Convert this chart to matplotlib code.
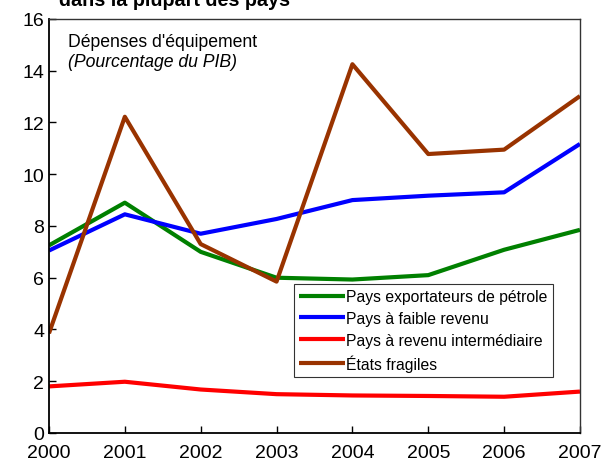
import matplotlib
matplotlib.use("Agg")
import matplotlib.pyplot as plt

plt.rcParams['font.family'] = ['Liberation Sans', 'DejaVu Sans']

years = [2000, 2001, 2002, 2003, 2004, 2005, 2006, 2007]
petrole = [7.25, 8.9, 7.0, 6.0, 5.93, 6.1, 7.08, 7.85]
faible = [7.05, 8.45, 7.7, 8.27, 9.0, 9.17, 9.3, 11.17]
intermediaire = [1.8, 1.98, 1.68, 1.5, 1.45, 1.43, 1.4, 1.6]
fragiles = [3.85, 12.22, 7.3, 5.85, 14.25, 10.78, 10.95, 13.02]

series = [
    ("Pays exportateurs de pétrole", petrole, '#008000'),
    ("Pays à faible revenu", faible, '#0000ff'),
    ("Pays à revenu intermédiaire", intermediaire, '#ff0000'),
    ("États fragiles", fragiles, '#993300'),
]

fig = plt.figure(figsize=(6.01, 4.64), dpi=100)
ax = fig.add_axes([0.0815, 0.0647, 0.8835, 0.8923])

for label, vals, color in series:
    ax.plot(years, vals, color=color, lw=3, label=label, solid_capstyle='butt')

ax.set_xlim(2000, 2007)
ax.set_ylim(0, 16)
ax.set_yticks(range(0, 17, 2))
ax.set_xticks(years)
ax.tick_params(direction='in', length=5, labelsize=14, width=1)
ax.tick_params(axis='x', pad=8)
for s in ['left', 'bottom']:
    ax.spines[s].set_linewidth(1.3)
for s in ['top', 'right']:
    ax.spines[s].set_linewidth(1.0)
    ax.spines[s].set_color('#333333')

ax.text(0.036, 0.967, "Dépenses d'équipement", transform=ax.transAxes,
        fontsize=12.7, va='top')
ax.text(0.036, 0.918, "(Pourcentage du PIB)", transform=ax.transAxes,
        fontsize=12.7, va='top', style='italic')

leg = ax.legend(loc='lower left', bbox_to_anchor=(0.461, 0.135), fontsize=11.3,
                frameon=True, fancybox=False, handlelength=2.9,
                handletextpad=0.1, borderpad=0.35, labelspacing=0.42,
                borderaxespad=0)
leg.get_frame().set_edgecolor('black')
leg.get_frame().set_linewidth(0.8)

fig.text(0.098, 1.0, "dans la plupart des pays", fontsize=14.2, weight='bold',
         va='center', ha='left')

fig.savefig("out.png", dpi=100)
